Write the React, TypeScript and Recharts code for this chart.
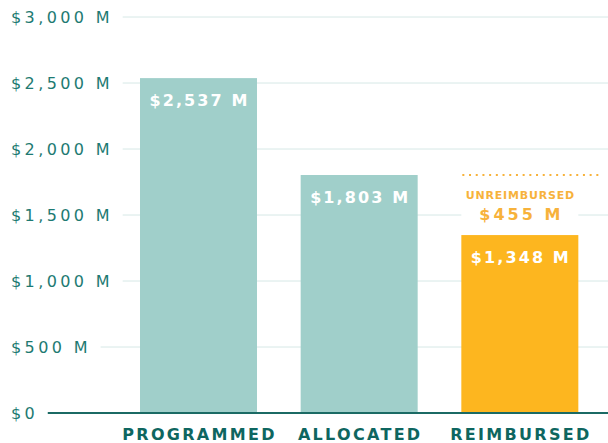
import { BarChart, Bar, XAxis, YAxis, CartesianGrid, Cell } from "recharts";

const CATEGORIES = ["PROGRAMMED", "ALLOCATED", "REIMBURSED"];
const AMOUNTS = [2537, 1803, 1348];
const BAR_COLORS = ["#a0cfca", "#a0cfca", "#fdb61f"];
const Y_TICKS = [0, 500, 1000, 1500, 2000, 2500, 3000];
const UNREIMBURSED = 455;

const AXIS_TEXT = "#1e7a72";
const CAT_TEXT = "#0e6660";
const GRID_STROKE = "#d6e8e6";
const BASE_STROKE = "#1b6a64";
const ORANGE_TEXT = "#f7b23b";
const FONT = "'DejaVu Sans', sans-serif";

const data = CATEGORIES.map((name, i) => ({ name, value: AMOUNTS[i] }));

const money = (v: number) => (v === 0 ? "$0" : `$${v.toLocaleString("en-US")} M`);

let ctx: CanvasRenderingContext2D | null = null;
function textWidth(text: string, font: string, ls: number) {
  if (!ctx) ctx = document.createElement("canvas").getContext("2d");
  if (!ctx) return text.length * 10;
  ctx.font = font;
  return ctx.measureText(text).width + ls * (text.length - 1);
}

// y labels sit at the left edge; the gridline starts a little after the text
function YTick(props: any) {
  const { y, payload } = props;
  const label = money(payload.value);
  const w = textWidth(label, `16px ${FONT}`, 3.4);
  return (
    <g>
      <rect x={0} y={y - 6} width={11 + w + 13} height={12} fill="#fff" />
      <text x={11} y={y + 6} fill={AXIS_TEXT} fontSize={16} fontFamily={FONT} letterSpacing={3.4}>
        {label}
      </text>
    </g>
  );
}

function XTick(props: any) {
  const { x, y, payload } = props;
  return (
    <text
      x={x + 1.2}
      y={y + 24.5}
      textAnchor="middle"
      fill={CAT_TEXT}
      fontSize={16}
      fontWeight={700}
      fontFamily={FONT}
      letterSpacing={2.3}
    >
      {payload.value}
    </text>
  );
}

function GridLine(props: any) {
  const { y1, y2, index, offset } = props;
  const isBase = offset && Math.abs(y1 - (offset.top + offset.height)) < 1;
  return (
    <line
      key={`grid-${index}`}
      x1={0}
      x2={608}
      y1={y1}
      y2={y2}
      stroke={isBase ? BASE_STROKE : GRID_STROKE}
      strokeWidth={isBase ? 2 : 1}
    />
  );
}

function BarShape(props: any) {
  const { x, y, width, height, fill, payload } = props;
  const cx = x + width / 2;
  const base = y + height;
  const ppu = height / payload.value;
  const showGap = payload.name === "REIMBURSED";
  const refY = base - AMOUNTS[1] * ppu;
  return (
    <g>
      <rect x={x} y={y} width={width} height={height} fill={fill} />
      <text
        x={cx + 1}
        y={y + 28}
        textAnchor="middle"
        fill="#fff"
        fontSize={16}
        fontWeight={700}
        fontFamily={FONT}
        letterSpacing={2.1}
      >
        {money(payload.value)}
      </text>
      {showGap && (
        <g>
          <rect x={x} y={refY} width={width} height={y - refY - 2} fill="#fff" />
          <line
            x1={x + 1}
            x2={x + width + 24}
            y1={refY}
            y2={refY}
            stroke={ORANGE_TEXT}
            strokeWidth={2}
            strokeDasharray="2 4.7"
          />
          <text
            x={cx + 0.5}
            y={refY + 24}
            textAnchor="middle"
            fill={ORANGE_TEXT}
            fontSize={11}
            fontWeight={700}
            fontFamily={FONT}
            letterSpacing={0.8}
          >
            UNREIMBURSED
          </text>
          <text
            x={cx + 1.5}
            y={refY + 45}
            textAnchor="middle"
            fill={ORANGE_TEXT}
            fontSize={16}
            fontWeight={700}
            fontFamily={FONT}
            letterSpacing={3}
          >
            {money(UNREIMBURSED)}
          </text>
        </g>
      )}
    </g>
  );
}

export default function App() {
  return (
    <div style={{ width: 608, height: 443 }}>
      <style>{"body{margin:0}"}</style>
      <BarChart width={608} height={443} data={data} margin={{ top: 17, right: 8, bottom: 0, left: 0 }}>
        <CartesianGrid vertical={false} horizontal={(p: any) => <GridLine {...p} />} />
        <YAxis
          type="number"
          domain={[0, 3000]}
          ticks={Y_TICKS}
          width={118}
          axisLine={false}
          tickLine={false}
          tick={<YTick />}
        />
        <XAxis
          dataKey="name"
          height={30}
          axisLine={{ stroke: BASE_STROKE, strokeWidth: 2 }}
          tickLine={false}
          tickSize={0}
          tick={<XTick />}
        />
        <Bar dataKey="value" barSize={117} shape={(p: any) => <BarShape {...p} />} isAnimationActive={false}>
          {data.map((d, i) => (
            <Cell key={d.name} fill={BAR_COLORS[i]} />
          ))}
        </Bar>
      </BarChart>
    </div>
  );
}
